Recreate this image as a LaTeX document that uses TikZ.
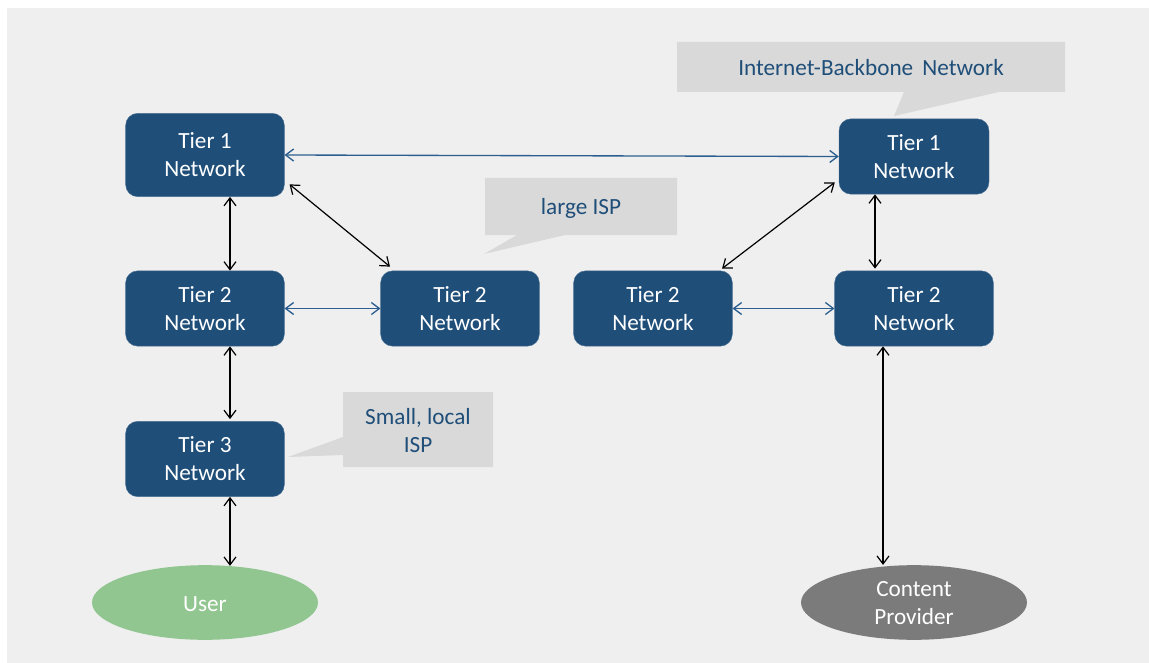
\documentclass[tikz,border=0pt]{standalone}
\usepackage{fontspec}
\setmainfont{Carlito}
\usetikzlibrary{arrows.meta,shapes.geometric}
\definecolor{bgc}{HTML}{EFEFEF}
\definecolor{boxc}{HTML}{1F4E79}
\definecolor{callc}{HTML}{D9D9D9}
\definecolor{greenc}{HTML}{92C690}
\definecolor{grayc}{HTML}{7B7B7B}
\definecolor{linkc}{HTML}{2C5F8F}
\newcommand{\twolines}[2]{\raisebox{4.75pt}[0pt][0pt]{\begin{tabular}[t]{@{}c@{}}#1\\#2\end{tabular}}}
\tikzset{
  tierbox/.style={rounded corners=9pt,fill=boxc,draw=boxc!80!white,line width=.3pt,text=white,align=center,inner sep=0pt,font=\fontsize{17.4}{21}\selectfont},
  oval/.style={ellipse,inner sep=0pt,text=white,align=center,font=\fontsize{17.4}{21}\selectfont},
  calltext/.style={text=boxc,align=center,inner sep=0pt,font=\fontsize{17.4}{21}\selectfont},
  callshape/.style={fill=callc,draw=none},
  darklink/.style={black,line width=.9pt,{Straight Barb[length=6pt,width=9pt]}-{Straight Barb[length=6pt,width=9pt]}},
  bluelink/.style={linkc,line width=1pt,{Straight Barb[length=6pt,width=9pt]}-{Straight Barb[length=6pt,width=9pt]}}
}
\begin{document}
\begin{tikzpicture}[x=.75pt,y=-.75pt]
\useasboundingbox (0,0) rectangle (1149,663);
\fill[white] (0,0) rectangle (1149,663);
\fill[bgc] (7,8) rectangle (1149,663);
% callouts
\fill[callshape] (677,42) -- (1065,42) -- (1065,92) -- (999,92) -- (894,116) -- (904,92) -- (677,92) -- cycle;
\fill[callshape] (485,178) -- (677,178) -- (677,235) -- (565,235) -- (484,254) -- (517,235) -- (485,235) -- cycle;
\fill[callshape] (343,392) -- (493,392) -- (493,467) -- (343,467) -- (343,455) -- (288,457) -- (343,437) -- cycle;
\node[calltext] (c1) at (871,67.5) {Internet-Backbone\, Network};
\node[calltext] (c2) at (581,208.5) {large ISP};
\node[calltext] (c3) at (418,431) {Small, local\\ISP};
% boxes
\node[tierbox,minimum width=119pt,minimum height=62.5pt] (a1) at (205,155) {\twolines{Tier 1}{Network}};
\node[tierbox,minimum width=112.5pt,minimum height=56.5pt] (b1) at (914,156.5) {\twolines{Tier 1}{Network}};
\node[tierbox,minimum width=119pt,minimum height=56.5pt] (a2) at (205,308.5) {\twolines{Tier 2}{Network}};
\node[tierbox,minimum width=119pt,minimum height=56.5pt] (a3) at (460,308.5) {\twolines{Tier 2}{Network}};
\node[tierbox,minimum width=119pt,minimum height=56.5pt] (b2) at (653,308.5) {\twolines{Tier 2}{Network}};
\node[tierbox,minimum width=119pt,minimum height=56.5pt] (b3) at (914,308.5) {\twolines{Tier 2}{Network}};
\node[tierbox,minimum width=119pt,minimum height=56.5pt] (t3) at (205,459) {\twolines{Tier 3}{Network}};
\node[oval,fill=greenc,minimum width=169.5pt,minimum height=56pt] (u) at (205,602.5) {\raisebox{-1.2pt}[\height][\depth]{User}};
\node[oval,fill=grayc,minimum width=169.5pt,minimum height=56pt] (p) at (914,602.5) {\twolines{Content}{Provider}};
% connectors
\draw[darklink] ([xshift=18.75pt]a1.south) -- ([xshift=18.75pt]a2.north);
\draw[darklink] ([xshift=18.75pt]a2.south) -- ([xshift=18.75pt,yshift=1.5pt]t3.north);
\draw[darklink] ([xshift=18.75pt]t3.south) -- ([xshift=18.75pt,yshift=-.75pt]u.north);
\draw[darklink] ([xshift=3.75pt,yshift=9.4pt]a1.south east) -- ([xshift=-52.5pt,yshift=3pt]a3.north);
\draw[darklink] ([xshift=-3pt,yshift=9pt]b1.south west) -- ([xshift=51.75pt,yshift=1.5pt]b2.north);
\draw[darklink] ([xshift=-29.25pt]b1.south) -- ([xshift=-29.25pt,yshift=1.5pt]b3.north);
\draw[darklink] ([xshift=-23.25pt]b3.south) -- ([xshift=-23.25pt]p.north);
\draw[bluelink] (a1.east) -- (b1.west);
\draw[bluelink] (a2.east) -- (a3.west);
\draw[bluelink] (b2.east) -- (b3.west);
\end{tikzpicture}
\end{document}
